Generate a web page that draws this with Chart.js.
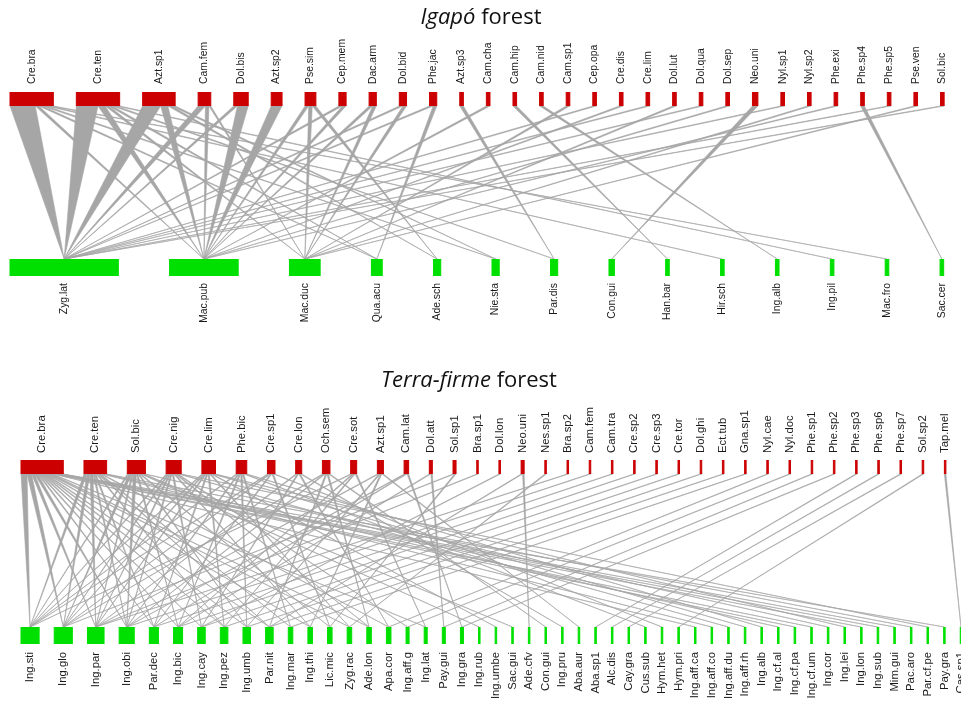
<!DOCTYPE html>
<html>
<head>
<meta charset="utf-8">
<title>Ant–plant interaction networks</title>
<script src="https://cdn.jsdelivr.net/npm/chart.js@4.4.1/dist/chart.umd.min.js"></script>
<style>
  html, body { margin: 0; padding: 0; background: #fff; }
  .panel { position: relative; width: 961px; height: 352px; }
  canvas { display: block; }
</style>
</head>
<body>
<div class="panel"><canvas id="igapo" width="961" height="352"></canvas></div>
<div class="panel"><canvas id="terra" width="961" height="352"></canvas></div>
<script>
// ---------- Igapó forest: ants (upper level) and host plants (lower level) ----------
const igapoAnts = ['Cre.bra','Cre.ten','Azt.sp1','Cam.fem','Dol.bis','Azt.sp2','Pse.sim','Cep.mem',
  'Dac.arm','Dol.bid','Phe.jac','Azt.sp3','Cam.cha','Cam.hip','Cam.nid','Cam.sp1','Cep.opa','Cre.dis',
  'Cre.lim','Dol.lut','Dol.qua','Dol.sep','Neo.uni','Nyl.sp1','Nyl.sp2','Phe.exi','Phe.sp4','Phe.sp5',
  'Pse.ven','Sol.bic'];
const igapoPlants = ['Zyg.lat','Mac.pub','Mac.duc','Qua.acu','Ade.sch','Nie.sta','Par.dis','Con.gui',
  'Han.bar','Hir.sch','Ing.alb','Ing.pil','Mac.fro','Sac.cer'];
// [ant, plant, number of interactions]
const igapoLinks = [
  ['Cre.bra','Zyg.lat',7],['Cre.bra','Mac.pub',1],['Cre.bra','Qua.acu',1],['Cre.bra','Nie.sta',1],
  ['Cre.bra','Hir.sch',1],['Cre.bra','Mac.fro',1],
  ['Cre.ten','Zyg.lat',6],['Cre.ten','Mac.pub',2],['Cre.ten','Mac.duc',1],['Cre.ten','Qua.acu',1],
  ['Cre.ten','Par.dis',1],['Cre.ten','Ing.pil',1],
  ['Azt.sp1','Zyg.lat',5],['Azt.sp1','Mac.pub',2],['Azt.sp1','Ade.sch',1],['Azt.sp1','Nie.sta',1],
  ['Cam.fem','Zyg.lat',2],['Cam.fem','Mac.pub',1],['Cam.fem','Mac.duc',0.5],
  ['Dol.bis','Zyg.lat',1],['Dol.bis','Mac.pub',3],
  ['Azt.sp2','Mac.pub',3],
  ['Pse.sim','Mac.pub',1],['Pse.sim','Mac.duc',1],['Pse.sim','Ade.sch',1],
  ['Cep.mem','Zyg.lat',1],['Cep.mem','Mac.pub',1],
  ['Dac.arm','Mac.pub',1],['Dac.arm','Mac.duc',1],
  ['Dol.bid','Zyg.lat',1],['Dol.bid','Mac.duc',1],
  ['Phe.jac','Zyg.lat',1],['Phe.jac','Qua.acu',1],
  ['Azt.sp3','Par.dis',1],['Cam.cha','Mac.pub',1],['Cam.hip','Han.bar',1],['Cam.nid','Ing.alb',1],
  ['Cam.sp1','Mac.duc',1],['Cep.opa','Zyg.lat',1],['Cre.dis','Mac.pub',1],['Cre.lim','Zyg.lat',1],
  ['Dol.lut','Mac.duc',1],['Dol.qua','Zyg.lat',1],['Dol.sep','Mac.pub',1],['Neo.uni','Con.gui',1.5],
  ['Nyl.sp1','Zyg.lat',1],['Nyl.sp2','Mac.duc',1],['Phe.exi','Mac.pub',1],['Phe.sp4','Sac.cer',1],
  ['Phe.sp5','Zyg.lat',1],['Pse.ven','Mac.duc',1],['Sol.bic','Zyg.lat',1]
];

// ---------- Terra-firme forest ----------
const terraAnts = ['Cre.bra','Cre.ten','Sol.bic','Cre.nig','Cre.lim','Phe.bic','Cre.sp1','Cre.lon',
  'Och.sem','Cre.sot','Azt.sp1','Cam.lat','Dol.att','Sol.sp1','Bra.sp1','Dol.lon','Neo.uni','Nes.sp1',
  'Bra.sp2','Cam.fem','Cam.tra','Cre.sp2','Cre.sp3','Cre.tor','Dol.ghi','Ect.tub','Gna.sp1','Nyl.cae',
  'Nyl.doc','Phe.sp1','Phe.sp2','Phe.sp3','Phe.sp6','Phe.sp7','Sol.sp2','Tap.mel'];
const terraPlants = ['Ing.sti','Ing.glo','Ing.par','Ing.obi','Par.dec','Ing.bic','Ing.cay','Ing.pez',
  'Ing.umb','Par.nit','Ing.mar','Ing.thi','Lic.mic','Zyg.rac','Ade.lon','Apa.cor','Ing.aff.g','Ing.lat',
  'Pay.gui','Ing.gra','Ing.rub','Ing.umbe','Sac.gui','Ade.cfv','Con.gui','Ing.pru','Aba.aur','Aba.sp1',
  'Alc.dis','Cay.gra','Cus.sub','Hym.het','Hym.pri','Ing.aff.ca','Ing.aff.co','Ing.aff.du','Ing.aff.rh',
  'Ing.alb','Ing.cf.al','Ing.cf.pa','Ing.cf.um','Ing.cor','Ing.lei','Ing.lon','Ing.sub','Mim.gui',
  'Pac.aro','Par.cf.pe','Pay.gra','Cas.sp1'];
const terraLinks = [
  ['Cre.bra','Ing.sti',4],['Cre.bra','Ing.glo',3],['Cre.bra','Ing.par',2],['Cre.bra','Ing.obi',2],
  ['Cre.bra','Par.dec',1],['Cre.bra','Ing.bic',1],['Cre.bra','Ing.cay',1],['Cre.bra','Ing.pez',1],
  ['Cre.bra','Ing.umb',1],['Cre.bra','Par.nit',1],['Cre.bra','Ing.thi',1],['Cre.bra','Zyg.rac',1],
  ['Cre.bra','Ade.lon',1],['Cre.bra','Ing.lat',1],['Cre.bra','Ing.aff.ca',1],['Cre.bra','Ing.cf.pa',1],
  ['Cre.bra','Ing.cf.um',1],['Cre.bra','Ing.lon',1],['Cre.bra','Ing.sub',1],['Cre.bra','Mim.gui',1],
  ['Cre.bra','Pay.gra',1],
  ['Cre.ten','Ing.sti',2],['Cre.ten','Ing.glo',2],['Cre.ten','Ing.par',2],['Cre.ten','Ing.obi',1],
  ['Cre.ten','Par.dec',1],['Cre.ten','Ing.pez',1],['Cre.ten','Par.nit',1],['Cre.ten','Ing.mar',1],
  ['Cre.ten','Apa.cor',1],['Cre.ten','Ing.aff.co',1],['Cre.ten','Ing.cf.al',1],['Cre.ten','Pac.aro',1],
  ['Sol.bic','Ing.sti',1],['Sol.bic','Ing.glo',2],['Sol.bic','Ing.par',1],['Sol.bic','Ing.obi',2],
  ['Sol.bic','Ing.bic',1],['Sol.bic','Ing.umb',1],['Sol.bic','Lic.mic',1],['Sol.bic','Ing.rub',1],
  ['Sol.bic','Sac.gui',1],['Sol.bic','Ing.cor',1],
  ['Cre.nig','Ing.sti',1],['Cre.nig','Ing.glo',1],['Cre.nig','Ing.par',1],['Cre.nig','Ing.obi',1],
  ['Cre.nig','Ing.cay',1],['Cre.nig','Ing.thi',1],['Cre.nig','Ade.lon',1],['Cre.nig','Ing.aff.g',1],
  ['Cre.nig','Ing.aff.du',1],['Cre.nig','Par.cf.pe',1],
  ['Cre.lim','Ing.sti',1],['Cre.lim','Ing.glo',1],['Cre.lim','Ing.par',1],['Cre.lim','Par.dec',1],
  ['Cre.lim','Ing.pez',1],['Cre.lim','Zyg.rac',1],['Cre.lim','Ing.umbe',1],['Cre.lim','Ing.aff.rh',1],
  ['Cre.lim','Ing.lei',1],
  ['Phe.bic','Ing.sti',1],['Phe.bic','Ing.obi',1],['Phe.bic','Ing.bic',1],['Phe.bic','Ing.umb',1],
  ['Phe.bic','Ing.mar',1],['Phe.bic','Ing.alb',1],['Phe.bic','Cus.sub',1],
  ['Cre.sp1','Ing.sti',1],['Cre.sp1','Ing.glo',1],['Cre.sp1','Par.dec',1],['Cre.sp1','Lic.mic',1],
  ['Cre.sp1','Hym.het',1],
  ['Cre.lon','Ing.par',1],['Cre.lon','Ing.cay',1],['Cre.lon','Apa.cor',1],['Cre.lon','Ing.pru',1],
  ['Och.sem','Ing.glo',1],['Och.sem','Ing.obi',1],['Och.sem','Par.nit',1],['Och.sem','Ade.lon',1],
  ['Och.sem','Con.gui',1],
  ['Cre.sot','Ing.sti',1],['Cre.sot','Ing.bic',1],['Cre.sot','Ing.pez',1],['Cre.sot','Ing.lat',1],
  ['Azt.sp1','Ing.par',1],['Azt.sp1','Ing.umb',1],['Azt.sp1','Ing.thi',1],['Azt.sp1','Aba.aur',1],
  ['Cam.lat','Ing.obi',1],['Cam.lat','Par.dec',1],['Cam.lat','Ing.gra',1],
  ['Dol.att','Ing.bic',1],['Dol.att','Pay.gui',1],
  ['Sol.sp1','Ing.glo',1],['Sol.sp1','Lic.mic',1],
  ['Bra.sp1','Ing.par',1],['Dol.lon','Ing.cay',1],
  ['Neo.uni','Par.nit',1],['Neo.uni','Ade.cfv',1],
  ['Nes.sp1','Zyg.rac',1],['Bra.sp2','Ing.par',1],['Cam.fem','Ing.obi',1],['Cam.tra','Par.dec',1],
  ['Cre.sp2','Ing.bic',1],['Cre.sp3','Ing.cay',1],['Cre.tor','Ing.pez',1],['Dol.ghi','Ing.umb',1],
  ['Ect.tub','Par.nit',1],['Gna.sp1','Ing.mar',1],['Nyl.cae','Apa.cor',1],['Nyl.doc','Ing.aff.g',1],
  ['Phe.sp1','Pay.gui',1],['Phe.sp2','Ing.gra',1],['Phe.sp3','Aba.sp1',1],['Phe.sp6','Alc.dis',1],
  ['Phe.sp7','Cay.gra',1],['Sol.sp2','Hym.pri',1],['Tap.mel','Cas.sp1',1]
];

const ANT_RED = '#cc0000';
const PLANT_GREEN = '#00e000';
const LINK_GREY = '#a6a6a6';
const LABEL_FAMILY = '"Liberation Sans", Arial, sans-serif';
const TITLE_FAMILY = '"Open Sans", "Noto Sans", sans-serif';
const TITLE_SIZE = 22;

// Box widths follow the marginal totals; boxes are laid out left to right with a fixed gap.
function buildWeb(ants, plants, links, gapTop, gapBottom) {
  const sumBy = (names, k) => {
    const t = Object.fromEntries(names.map(n => [n, 0]));
    links.forEach(l => { t[l[k]] += l[2]; });
    return t;
  };
  const place = (names, totals, gap) => {
    const out = {}; let x = 0;
    names.forEach(n => { out[n] = { x0: x, x1: x + totals[n] }; x += totals[n] + gap; });
    return out;
  };
  const antBox = place(ants, sumBy(ants, 0), gapTop);
  const plantBox = place(plants, sumBy(plants, 1), gapBottom);
  const polys = [];
  ants.forEach(a => {
    let cur = antBox[a].x0;
    links.filter(l => l[0] === a)
      .sort((p, q) => plants.indexOf(p[1]) - plants.indexOf(q[1]))
      .forEach(l => {
        const pb = plantBox[l[1]];
        polys.push({ a0: cur, a1: cur + l[2], c: (pb.x0 + pb.x1) / 2 });
        cur += l[2];
      });
  });
  return { ants, plants, antBox, plantBox, polys };
}

function webPlugin(web, rows, title) {
  return {
    id: 'bipartiteWeb',
    afterDatasetsDraw(chart) {
      const ctx = chart.ctx;
      const X = v => chart.scales.x.getPixelForValue(v);
      const Y = v => chart.scales.y.getPixelForValue(v);
      ctx.save();
      // interactions
      ctx.fillStyle = LINK_GREY; ctx.strokeStyle = LINK_GREY; ctx.lineWidth = 0.6;
      web.polys.forEach(p => {
        ctx.beginPath();
        ctx.moveTo(X(p.a0), Y(rows.topBox[1]));
        ctx.lineTo(X(p.a1), Y(rows.topBox[1]));
        ctx.lineTo(X(p.c), Y(rows.bottomBox[0]));
        ctx.closePath();
        ctx.fill(); ctx.stroke();
      });
      // boxes
      const drawBoxes = (boxes, band, color) => {
        ctx.fillStyle = color; ctx.strokeStyle = color; ctx.lineWidth = 1;
        Object.values(boxes).forEach(b => {
          const x0 = X(b.x0), x1 = X(b.x1), y0 = Y(band[0]), y1 = Y(band[1]);
          ctx.fillRect(x0, y0, x1 - x0, y1 - y0);
          ctx.strokeRect(x0, y0 + 0.5, x1 - x0, y1 - y0 - 1);
        });
      };
      drawBoxes(web.antBox, rows.topBox, ANT_RED);
      drawBoxes(web.plantBox, rows.bottomBox, PLANT_GREEN);
      // species labels, rotated
      ctx.fillStyle = '#1a1a1a'; ctx.font = rows.labelSize + 'px ' + LABEL_FAMILY; ctx.textBaseline = 'middle';
      web.ants.forEach(n => {
        const b = web.antBox[n];
        ctx.save(); ctx.translate(X((b.x0 + b.x1) / 2), Y(rows.topLabel)); ctx.rotate(-Math.PI / 2);
        ctx.textAlign = 'left'; ctx.fillText(n, 0, 0); ctx.restore();
      });
      web.plants.forEach(n => {
        const b = web.plantBox[n];
        ctx.save(); ctx.translate(X((b.x0 + b.x1) / 2), Y(rows.bottomLabel)); ctx.rotate(-Math.PI / 2);
        ctx.textAlign = 'right'; ctx.fillText(n, 0, 0); ctx.restore();
      });
      // title with italic forest name
      const parts = title.parts.map(([t, it]) => {
        ctx.font = (it ? 'italic ' : '') + TITLE_SIZE + 'px ' + TITLE_FAMILY;
        return { t, it, w: ctx.measureText(t).width };
      });
      let x = title.center - parts.reduce((s, p) => s + p.w, 0) / 2;
      ctx.fillStyle = '#111'; ctx.textAlign = 'left'; ctx.textBaseline = 'alphabetic';
      parts.forEach(p => {
        ctx.font = (p.it ? 'italic ' : '') + TITLE_SIZE + 'px ' + TITLE_FAMILY;
        ctx.fillText(p.t, x, Y(title.baseline)); x += p.w;
      });
      ctx.restore();
    }
  };
}

function makeChart(id, web, xMax, padLeft, rows, title) {
  return new Chart(document.getElementById(id), {
    type: 'scatter',
    data: { datasets: [] },
    options: {
      responsive: false, animation: false, devicePixelRatio: 1,
      layout: { padding: { left: padLeft, right: 0, top: 0, bottom: 0 } },
      plugins: { legend: { display: false }, tooltip: { enabled: false }, title: { display: false } },
      scales: {
        x: { type: 'linear', min: 0, max: xMax, display: false },
        y: { type: 'linear', min: 0, max: 352, reverse: true, display: false }
      }
    },
    plugins: [webPlugin(web, rows, title)]
  });
}

makeChart('igapo', buildWeb(igapoAnts, igapoPlants, igapoLinks, 6.37, 14.2), 263.4, 10,
  { topLabel: 84, topBox: [92, 106], bottomBox: [259, 276], bottomLabel: 283, labelSize: 10.4 },
  { parts: [['Igapó', true], [' forest', false]], center: 481, baseline: 24 });

makeChart('terra', buildWeb(terraAnts, terraPlants, terraLinks, 13.7, 10.0), 622.5, 21,
  { topLabel: 101, topBox: [108, 122], bottomBox: [275, 292], bottomLabel: 300, labelSize: 11.3 },
  { parts: [['Terra-firme', true], [' forest', false]], center: 469, baseline: 35 });
</script>
</body>
</html>
